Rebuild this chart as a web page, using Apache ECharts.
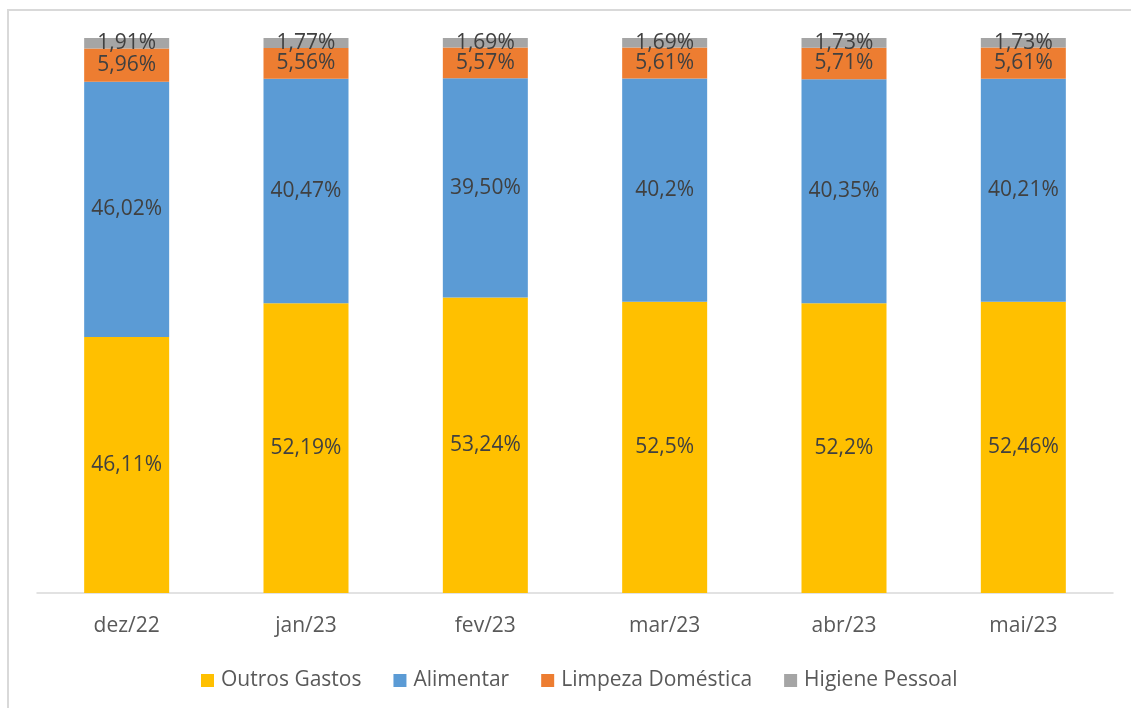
<!DOCTYPE html>
<html>
<head>
<meta charset="utf-8">
<style>
    html,body{
        margin:0;
        padding:0;
        background:#fff;
    }
    #chart{
        width:1131px;
        height:708px;
    }
</style>
<script src="https://cdn.jsdelivr.net/npm/echarts@6/dist/echarts.min.js"></script>
</head>
<body>
<div id="chart"></div>
<script>
var months = ['dez/22', 'jan/23', 'fev/23', 'mar/23', 'abr/23', 'mai/23'];
// valores em %, guardados como texto para manter as casas decimais dos rótulos
var outrosGastos = ['46.11', '52.19', '53.24', '52.5', '52.2', '52.46'];
var alimentar = ['46.02', '40.47', '39.50', '40.2', '40.35', '40.21'];
var limpeza = ['5.96', '5.56', '5.57', '5.61', '5.71', '5.61'];
var higiene = ['1.91', '1.77', '1.69', '1.69', '1.73', '1.73'];

(function() {
    var font = '"Open Sans", "Noto Sans", sans-serif';
    var myChart = echarts.init(document.getElementById('chart'));

    function serie(name, data, color){
        return {
            name: name,
            type: 'bar',
            stack: 'total',
            barWidth: 85,
            data: data,
            itemStyle: { color: color },
            label: {
                show: true,
                position: 'inside',
                color: '#404040',
                fontFamily: font,
                fontSize: 21,
                formatter: function(p){ return String(p.data).replace('.', ',') + '%'; }
            }
        };
    }

    myChart.setOption({
        animation: false,
        graphic: [{
            type: 'rect',
            shape: { x: 8, y: 10, width: 1200, height: 800 },
            style: { fill: 'none', stroke: '#D9D9D9', lineWidth: 2 },
            silent: true
        }],
        grid: { left: 37, right: 18, top: 38, bottom: 115 },
        legend: {
            top: 665,
            left: 196,
            itemWidth: 13,
            itemHeight: 13,
            itemGap: 32,
            icon: 'rect',
            textStyle: { color: '#595959', fontFamily: font, fontSize: 21, padding: [0, 0, 0, 2] },
            data: ['Outros Gastos', 'Alimentar', 'Limpeza Doméstica', 'Higiene Pessoal']
        },
        xAxis: {
            type: 'category',
            data: months,
            axisLine: { lineStyle: { color: '#D9D9D9', width: 1.5 } },
            axisTick: { show: false },
            axisLabel: { color: '#595959', fontFamily: font, fontSize: 21, margin: 23 }
        },
        yAxis: {
            type: 'value',
            min: 0,
            max: 100,
            show: false
        },
        series: [
            serie('Outros Gastos', outrosGastos, '#FFC000'),
            serie('Alimentar', alimentar, '#5B9BD5'),
            serie('Limpeza Doméstica', limpeza, '#ED7D31'),
            serie('Higiene Pessoal', higiene, '#A5A5A5')
        ]
    });
})()
</script>
</body>
</html>
